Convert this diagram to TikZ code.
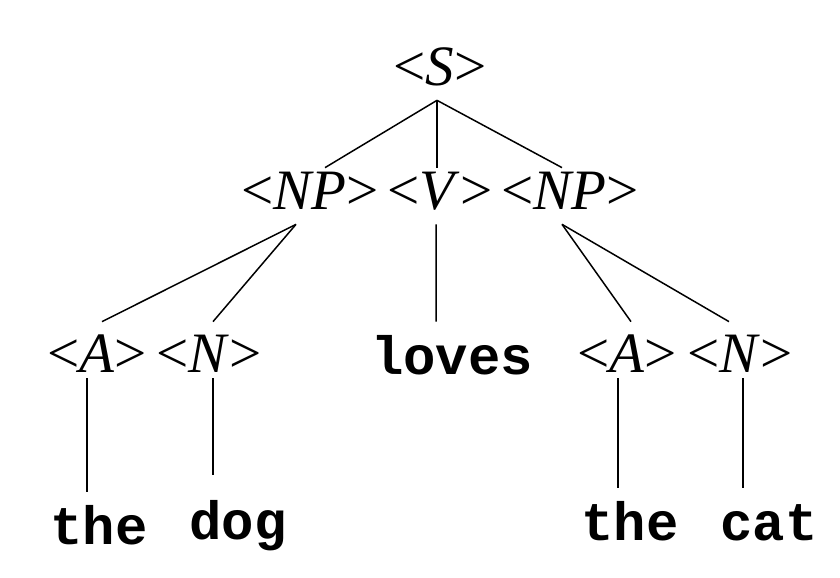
\documentclass[tikz,border=0pt]{standalone}
\usepackage{fontspec}
\setmainfont{Liberation Serif}
\setmonofont{Liberation Mono}
\usepackage{tikz}
\tikzset{ntNode/.style={font=\fontsize{32.5}{38}\selectfont, inner xsep=0pt, inner ysep=0.28cm, text height=0.56cm, text depth=0pt, anchor=base}}
\tikzset{preNode/.style={ntNode, inner ysep=0.1cm, text height=0.92cm}}
\tikzset{termNode/.style={font=\fontsize{30.7}{36}\selectfont\ttfamily\bfseries, inner sep=0pt, text height=1.06cm, text depth=0pt, anchor=base}}
\tikzset{treeLine/.style={line width=0.85pt, color=black}}
\newcommand{\nt}[1]{\textless\textit{#1}\textgreater}

\begin{document}
\begin{tikzpicture}[]
	\useasboundingbox (0,0) rectangle (16.8,11.56);
	%nonterminals
	\node[ntNode] (S) at (8.8,9.84) {\nt{S}};
	\node[ntNode] (NPa) at (6.2,7.36) {\nt{NP}};
	\node[ntNode] (V) at (8.8,7.36) {\nt{V}};
	\node[ntNode] (NPb) at (11.4,7.36) {\nt{NP}};
	\node[preNode] (Aa) at (1.94,4.10) {\nt{A}};
	\node[preNode] (Na) at (4.18,4.10) {\nt{N}};
	\node[preNode] (Ab) at (12.54,4.10) {\nt{A}};
	\node[preNode] (Nb) at (14.8,4.10) {\nt{N}};
	%words
	\node[termNode] (loves) at (9.04,4.06) {loves};
	\node[termNode] (thea) at (1.98,0.66) {the};
	\node[termNode, text height=1.3cm] (dog) at (4.76,0.76) {dog};
	\node[termNode] (theb) at (12.6,0.74) {the};
	\node[termNode] (cat) at (15.38,0.74) {cat};

	\draw[treeLine] ([xshift=-0.06cm]S.south) -- ([xshift=0.30cm]NPa.north);
	\draw[treeLine] ([xshift=-0.06cm]S.south) -- ([xshift=-0.06cm]V.north);
	\draw[treeLine] ([xshift=-0.06cm]S.south) -- ([xshift=-0.16cm]NPb.north);

	\draw[treeLine] ([xshift=-0.28cm]NPa.south) -- ([xshift=0.10cm]Aa.north);
	\draw[treeLine] ([xshift=-0.28cm]NPa.south) -- ([xshift=0.08cm]Na.north);
	\draw[treeLine] ([xshift=-0.08cm]V.south) -- ([xshift=-0.32cm]loves.north);
	\draw[treeLine] ([xshift=-0.16cm]NPb.south) -- ([xshift=0.08cm]Ab.north);
	\draw[treeLine] ([xshift=-0.16cm]NPb.south) -- ([xshift=-0.22cm]Nb.north);

	\draw[treeLine] ([xshift=-0.20cm]Aa.south) -- ([xshift=-0.20cm]Aa.south |- thea.north);
	\draw[treeLine] ([xshift=0.08cm]Na.south) -- ([xshift=0.08cm]Na.south |- dog.north);
	\draw[treeLine] ([xshift=-0.18cm]Ab.south) -- ([xshift=-0.18cm]Ab.south |- theb.north);
	\draw[treeLine] ([xshift=0.06cm]Nb.south) -- ([xshift=0.06cm]Nb.south |- cat.north);
\end{tikzpicture}
\end{document}
